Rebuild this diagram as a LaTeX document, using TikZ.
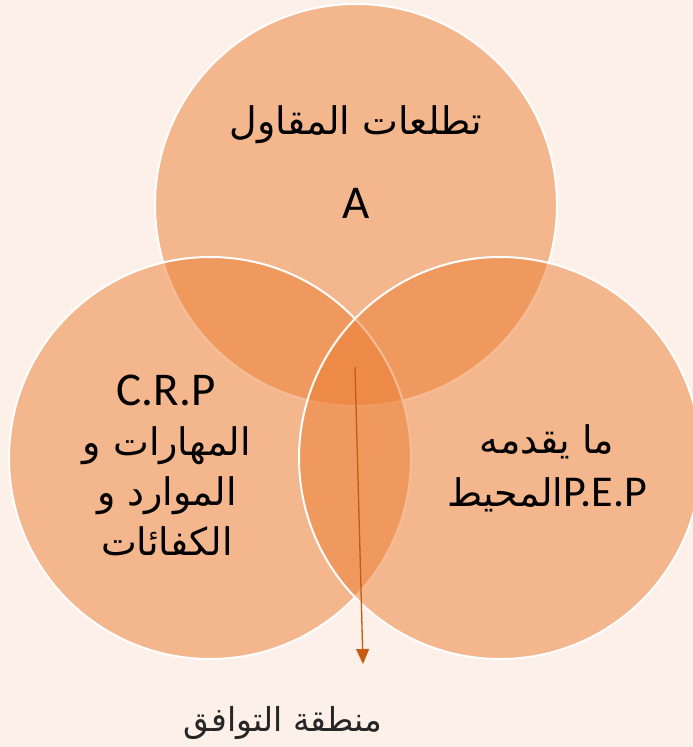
\documentclass[tikz,border=0pt]{standalone}
\usepackage{fontspec}
\usetikzlibrary{arrows.meta}
\setmainfont{Carlito}
\newfontfamily\arabicfont[Script=Arabic]{DejaVu Sans}
\TeXXeTstate=1
\definecolor{bgpeach}{HTML}{FDF0E8}
\definecolor{ringfill}{HTML}{ED7D31}
\definecolor{arrowbrown}{HTML}{C55A11}
\definecolor{labelgray}{HTML}{262626}
\tikzset{
  ring/.style={shape=circle, draw=white, line width=2pt, fill=ringfill, fill opacity=.5, minimum size=402pt, inner sep=0pt},
  artext/.style={font=\arabicfont\fontsize{38}{50}\selectfont, align=center, inner sep=0pt},
  latext/.style={font=\fontsize{47}{50}\selectfont, inner sep=0pt}
}

\begin{document}
\begin{tikzpicture}[x=1pt,y=-1pt]
	\fill[bgpeach] (0,0) rectangle (693,747);
	\useasboundingbox (0,0) rectangle (693,747);
	\clip (0,0) rectangle (693,747);
	\coordinate (aims) at (356,205);
	\coordinate (skills) at (210,458);
	\coordinate (milieu) at (500,458);
	\coordinate (overlap) at (355,367);
	\coordinate (below) at (363,664);
	\draw node (aimsring) at (aims) [ring] {}
		node (skillsring) at (skills) [ring] {}
		node (milieuring) at (milieu) [ring] {};
	\draw[arrowbrown, line width=1.3pt, -{Triangle[length=15pt,width=13pt]}] (overlap) -- (below);
	\node (aimstext) at (356,125) [artext] {\beginR تطلعات المقاول\endR};
	\node (aimsletter) at (356,203) [latext] {A};
	\node (crp) at (166,390) [latext] {C.R.P};
	\node (skillstext) at (167,491) [artext] {\beginR المهارات و\endR\\\beginR الموارد و\endR\\\beginR الكفائات\endR};
	\node (milieutext) at (547,468) [artext, font=\arabicfont\fontsize{38}{53}\selectfont] {\beginR ما يقدمه\endR\\\beginR\beginL{\normalfont\fontsize{44}{53}\selectfont P.E.P}\endL المحيط\endR};
	\node (zonelabel) at (283,723) [font=\arabicfont\fontsize{33}{36}\selectfont, text=labelgray, inner sep=0pt] {\beginR منطقة التوافق\endR};
\end{tikzpicture}
\end{document}
